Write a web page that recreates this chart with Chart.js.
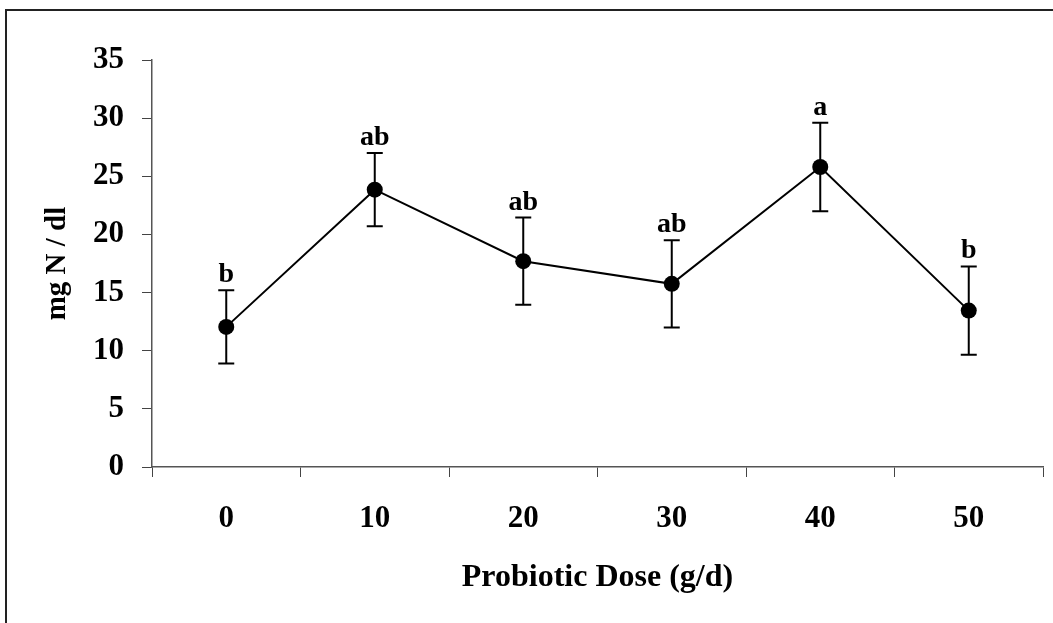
<!DOCTYPE html>
<html>
<head>
<meta charset="utf-8">
<script src="https://cdn.jsdelivr.net/npm/chart.js@4.4.1/dist/chart.umd.min.js"></script>
<style>
  html, body { margin: 0; padding: 0; background: #fff; overflow: hidden; }
  #wrap { position: relative; width: 1053px; height: 623px; }
  #frame {
    position: absolute; left: 5px; top: 9px; width: 1100px; height: 700px;
    border-top: 2px solid #222; border-left: 2px solid #222;
    pointer-events: none;
  }
  canvas { position: absolute; left: 0; top: 0; }
</style>
</head>
<body>
<div id="wrap">
  <canvas id="chart" width="1053" height="623"></canvas>
  <div id="frame"></div>
</div>
<script>
  const doses = ["0", "10", "20", "30", "40", "50"];
  const means = [12.05, 23.85, 17.7, 15.75, 25.8, 13.45];
  const errors = [3.15, 3.15, 3.75, 3.75, 3.8, 3.8];
  const groups = ["b", "ab", "ab", "ab", "a", "b"];
  const yTicks = [0, 5, 10, 15, 20, 25, 30, 35];

  const SERIF = "'Liberation Serif', 'Times New Roman', serif";

  // error bars with caps, then the group letters above each cap
  const errorBars = {
    id: "errorBars",
    beforeDatasetsDraw(chart) {
      const { ctx, scales } = chart;
      const meta = chart.getDatasetMeta(0);
      ctx.save();
      ctx.strokeStyle = "#000";
      ctx.lineWidth = 2;
      meta.data.forEach((pt, i) => {
        const yTop = scales.y.getPixelForValue(means[i] + errors[i]);
        const yBot = scales.y.getPixelForValue(means[i] - errors[i]);
        ctx.beginPath();
        ctx.moveTo(pt.x, yTop);
        ctx.lineTo(pt.x, yBot);
        ctx.moveTo(pt.x - 8, yTop);
        ctx.lineTo(pt.x + 8, yTop);
        ctx.moveTo(pt.x - 8, yBot);
        ctx.lineTo(pt.x + 8, yBot);
        ctx.stroke();
      });
      ctx.restore();
    },
    afterDatasetsDraw(chart) {
      const { ctx, scales } = chart;
      const meta = chart.getDatasetMeta(0);
      ctx.save();
      ctx.fillStyle = "#000";
      ctx.font = "bold 28px " + SERIF;
      ctx.textAlign = "center";
      ctx.textBaseline = "alphabetic";
      meta.data.forEach((pt, i) => {
        const yTop = scales.y.getPixelForValue(means[i] + errors[i]);
        ctx.fillText(groups[i], pt.x, yTop - 8);
      });
      ctx.restore();
    },
  };

  new Chart(document.getElementById("chart"), {
    type: "line",
    data: {
      labels: doses,
      datasets: [
        {
          data: means,
          borderColor: "#000",
          borderWidth: 2,
          pointRadius: 8,
          pointBackgroundColor: "#000",
          pointBorderColor: "#000",
          pointBorderWidth: 0,
          tension: 0,
        },
      ],
    },
    options: {
      responsive: false,
      animation: false,
      layout: { padding: { top: 60, right: 10, left: 0, bottom: 0 } },
      plugins: { legend: { display: false }, tooltip: { enabled: false } },
      scales: {
        x: {
          offset: true,
          grid: { offset: true, drawOnChartArea: false, tickLength: 10, color: "#444", lineWidth: 1 },
          border: { color: "#555", width: 1.5 },
          ticks: {
            color: "#000",
            padding: 23,
            maxRotation: 0,
            font: { family: SERIF, size: 31, weight: "bold" },
          },
          title: {
            display: true,
            text: "Probiotic Dose (g/d)",
            color: "#000",
            padding: { top: 0, bottom: 26 },
            font: { family: SERIF, size: 32, weight: "bold" },
          },
          afterFit(scale) { scale.height = 156; },
        },
        y: {
          min: 0,
          max: 35,
          afterBuildTicks(scale) { scale.ticks = yTicks.map((v) => ({ value: v })); },
          grid: { drawOnChartArea: false, tickLength: 10, color: "#444", lineWidth: 1 },
          border: { color: "#555", width: 1.5 },
          ticks: {
            color: "#000",
            padding: 18,
            font: { family: SERIF, size: 31, weight: "bold" },
          },
          title: {
            display: true,
            text: "mg N / dl",
            color: "#000",
            padding: { top: 40, bottom: 0 },
            font: { family: SERIF, size: 29, weight: "bold" },
          },
          afterFit(scale) { scale.width = 152; },
        },
      },
    },
    plugins: [errorBars],
  });
</script>
</body>
</html>
